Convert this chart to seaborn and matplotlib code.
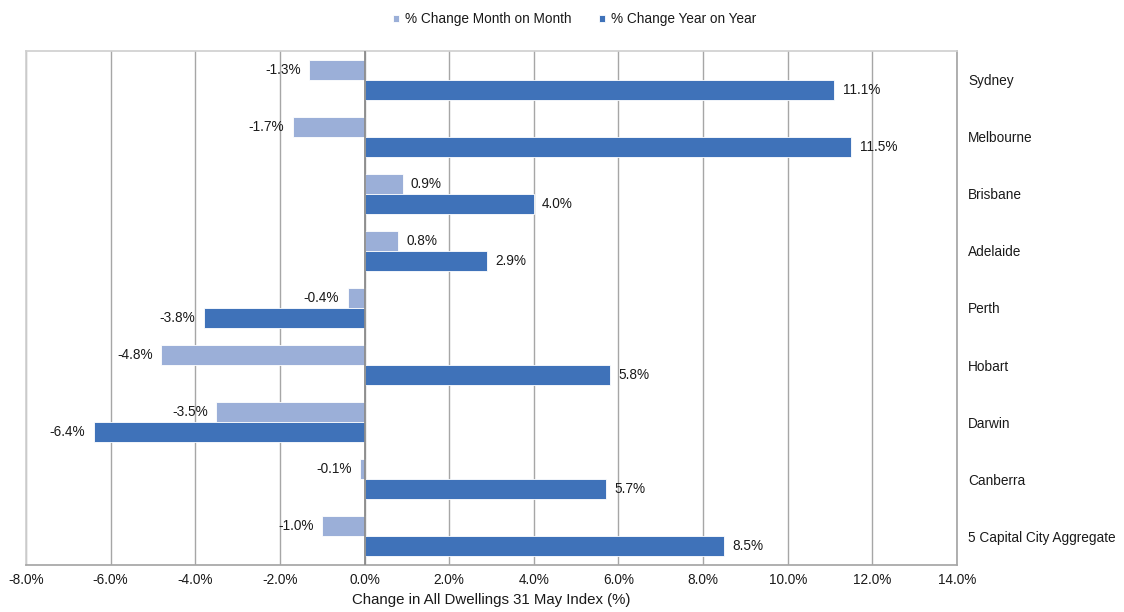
import matplotlib
matplotlib.use("Agg")
import matplotlib.pyplot as plt
import pandas as pd
import seaborn as sns

cities = ["Sydney", "Melbourne", "Brisbane", "Adelaide", "Perth", "Hobart",
          "Darwin", "Canberra", "5 Capital City Aggregate"]
month_change = [-1.3, -1.7, 0.9, 0.8, -0.4, -4.8, -3.5, -0.1, -1.0]
year_change = [11.1, 11.5, 4.0, 2.9, -3.8, 5.8, -6.4, 5.7, 8.5]
series_names = ["% Change Month on Month", "% Change Year on Year"]
x_ticks = [-8, -6, -4, -2, 0, 2, 4, 6, 8, 10, 12, 14]

df = pd.DataFrame({
    "city": cities * 2,
    "value": month_change + year_change,
    "series": [series_names[0]] * len(cities) + [series_names[1]] * len(cities),
})

sns.set_theme(style="white")
plt.rcParams["font.family"] = ["Liberation Sans", "DejaVu Sans"]
TEXT = "#1a1a1a"

fig = plt.figure(figsize=(11.24, 6.12), dpi=100)
ax = fig.add_axes([0.0231, 0.0768, 0.8283, 0.8399])

palette = {series_names[0]: "#9BAFD8", series_names[1]: "#3F72B9"}
sns.barplot(data=df, y="city", x="value", hue="series", order=cities,
            hue_order=series_names, palette=palette, orient="h",
            width=0.7, saturation=1, ax=ax, legend=True,
            edgecolor="white", linewidth=0.6)

for cont, vals in zip(ax.containers, [month_change, year_change]):
    ax.bar_label(cont, labels=[f"{v:.1f}%" for v in vals], padding=6,
                 fontsize=9.8, color=TEXT)

ax.set_xlim(-8, 14)
ax.set_xticks(x_ticks)
ax.set_xticklabels([f"{t:.1f}%" for t in x_ticks], fontsize=9.8, color=TEXT)
ax.xaxis.grid(True, color="#A6A6A6", linewidth=1)
ax.axvline(0, color="#8C8C8C", linewidth=1.3, zorder=3)
ax.set_axisbelow(True)
ax.tick_params(axis="x", length=0, pad=6)

ax.yaxis.tick_right()
ax.tick_params(axis="y", length=0, pad=8, labelsize=9.8, labelcolor=TEXT)
ax.set_ylabel("")
ax.set_xlabel("Change in All Dwellings 31 May Index (%)", fontsize=10.8,
              color=TEXT, labelpad=4)

for side in ["left", "top"]:
    ax.spines[side].set_color("#D0D0D0")
for side in ["right", "bottom"]:
    ax.spines[side].set_color("#A6A6A6")

handles, labels = ax.get_legend_handles_labels()
ax.get_legend().remove()
fig.legend(handles, labels, loc="upper center", bbox_to_anchor=(0.511, 1.0),
           ncol=2, frameon=False, fontsize=9.8, handlelength=0.5,
           handleheight=0.5, handletextpad=0.4, columnspacing=2.0,
           labelcolor=TEXT)

fig.savefig("out.png", dpi=100)
